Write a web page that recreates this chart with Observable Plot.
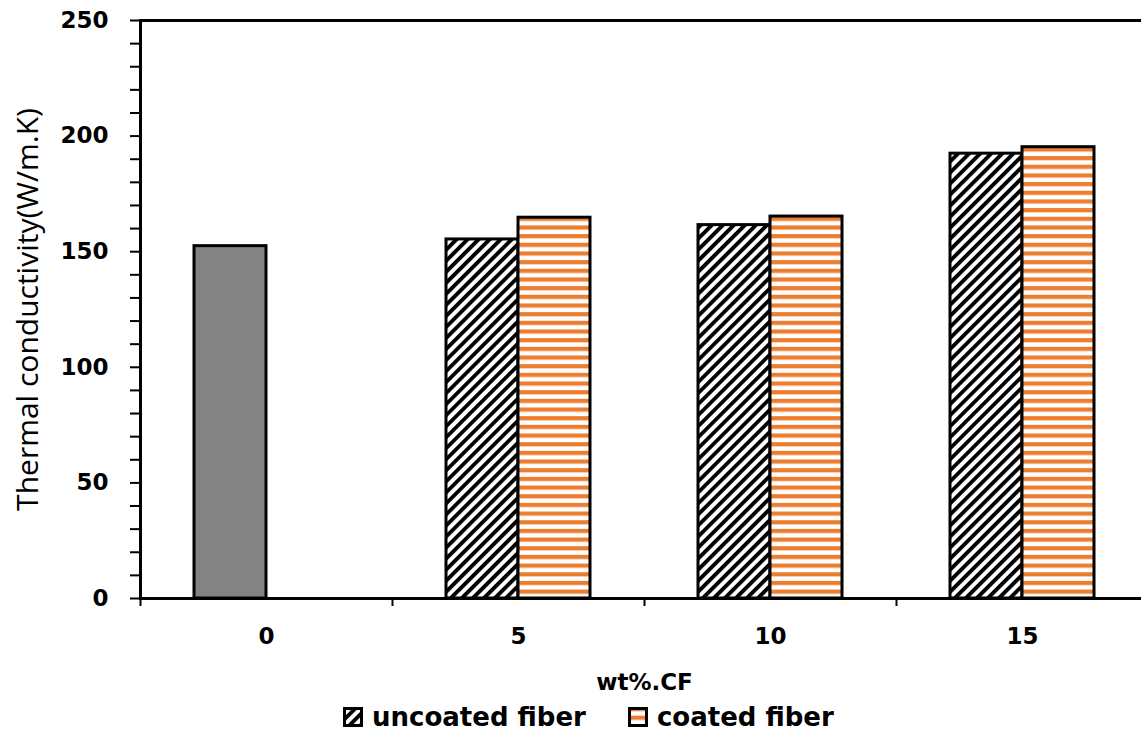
<!DOCTYPE html>
<html>
<head>
<meta charset="utf-8">
<script src="https://cdn.jsdelivr.net/npm/d3@7"></script>
<script src="https://cdn.jsdelivr.net/npm/@observablehq/plot@0.6"></script>
<style>
  html, body { margin: 0; padding: 0; background: #fff; overflow: hidden; }
  #wrap { position: relative; width: 1141px; height: 736px; }
  #chart svg { overflow: visible; display: block; }
  #legend { position: absolute; left: 343px; top: 702px; display: flex; align-items: center;
            font-family: "DejaVu Sans", sans-serif; font-weight: bold; font-size: 26px; color: #000; }
  .item { display: flex; align-items: center; }
  .item svg { margin-right: 9px; display: block; }
  .item + .item { margin-left: 42px; }
</style>
</head>
<body>
<svg width="0" height="0" style="position:absolute">
  <defs>
    <pattern id="hatch" patternUnits="userSpaceOnUse" width="7.8" height="7.8" patternTransform="rotate(45)">
      <rect width="7.8" height="7.8" fill="#fff"/>
      <rect width="3.8" height="7.8" fill="#000"/>
    </pattern>
    <pattern id="stripes" patternUnits="userSpaceOnUse" width="10" height="8.67">
      <rect width="10" height="8.67" fill="#fff"/>
      <rect y="0" width="10" height="4.2" fill="#ED7D31"/>
    </pattern>
  </defs>
</svg>
<div id="wrap">
  <div id="chart"></div>
  <div id="legend">
    <div class="item"><svg width="20" height="20"><rect x="1.5" y="1.5" width="17" height="17" fill="url(#hatch)" stroke="#000" stroke-width="3"/></svg>uncoated fiber</div>
    <div class="item"><svg width="20" height="20"><rect x="1.5" y="1.5" width="17" height="17" fill="url(#stripes)" stroke="#000" stroke-width="3"/></svg>coated fiber</div>
  </div>
</div>
<script>
// ---- data ----
const categories = ["0", "5", "10", "15"];
const series = ["uncoated fiber", "coated fiber"];
const neatValues = [152.4, null, null, null];          // plain matrix (0 wt%)
const uncoatedValues = [null, 155.3, 161.5, 192.4];
const coatedValues = [null, 164.7, 165.2, 195.2];
const yTicks = [0, 50, 100, 150, 200, 250];
const yMinorTicks = [0, 10, 20, 30, 40, 50, 60, 70, 80, 90, 100, 110, 120, 130, 140, 150, 160, 170, 180, 190, 200, 210, 220, 230, 240, 250];
const xTitle = "wt%.CF";
const yTitle = "Thermal conductivity(W/m.K)";

const rows = (vals, s) => categories.map((c, i) => ({cat: c, series: s, value: vals[i]})).filter(d => d.value != null);
const neatRows = rows(neatValues, series[0]);
const uncoatedRows = rows(uncoatedValues, series[0]);
const coatedRows = rows(coatedValues, series[1]);

const width = 1141, marginLeft = 140, marginRight = -7;
const step = (width - marginLeft - marginRight) / categories.length;

const barOpts = {fx: "cat", x: "series", y: "value", stroke: "#000", strokeWidth: 3};

const chart = Plot.plot({
  width,
  height: 700,
  marginLeft,
  marginRight,
  marginTop: 20,
  marginBottom: 102,
  style: {background: "#fff", overflow: "visible"},
  fx: {domain: categories, paddingInner: 0, paddingOuter: 0, round: false},
  x: {domain: series, paddingInner: 0, paddingOuter: 0.75, round: false, axis: null},
  y: {domain: [0, 250], axis: null},
  marks: [
    Plot.barY(neatRows, {...barOpts, fill: "#838383"}),
    Plot.barY(uncoatedRows, {...barOpts, fill: "url(#hatch)"}),
    Plot.barY(coatedRows, {...barOpts, fill: "url(#stripes)"}),
    Plot.frame({anchor: "top", stroke: "#000", strokeWidth: 3}),
    Plot.frame({anchor: "bottom", stroke: "#000", strokeWidth: 3}),
    Plot.frame({anchor: "left", stroke: "#000", strokeWidth: 3, facetAnchor: "left"}),
    Plot.axisY({ticks: yMinorTicks, tickSize: 10, strokeWidth: 2, stroke: "#000", fill: "none", label: null}),
    Plot.axisY({ticks: yTicks, tickSize: 0, tickPadding: 32, tickFormat: d3.format("d"), label: null,
                fontFamily: "DejaVu Sans", fontWeight: "bold", fontSize: 23, fill: "#000"}),
    Plot.text([yTitle], {frameAnchor: "left", rotate: -90, dx: -112, textAnchor: "middle", lineAnchor: "middle",
                facetAnchor: "left", fontFamily: "Open Sans", fontSize: 30, fill: "#000"}),
    Plot.axisFx({anchor: "bottom", tickSize: 8, strokeWidth: 2, stroke: "#000", fill: "none", label: null, dx: -step / 2}),
    Plot.axisFx({anchor: "bottom", tickSize: 0, tickPadding: 29, label: xTitle, labelAnchor: "center", labelOffset: 91,
                 fontFamily: "DejaVu Sans", fontWeight: "bold", fontSize: 23, fill: "#000"})
  ]
});
document.getElementById("chart").appendChild(chart);
</script>
</body>
</html>
